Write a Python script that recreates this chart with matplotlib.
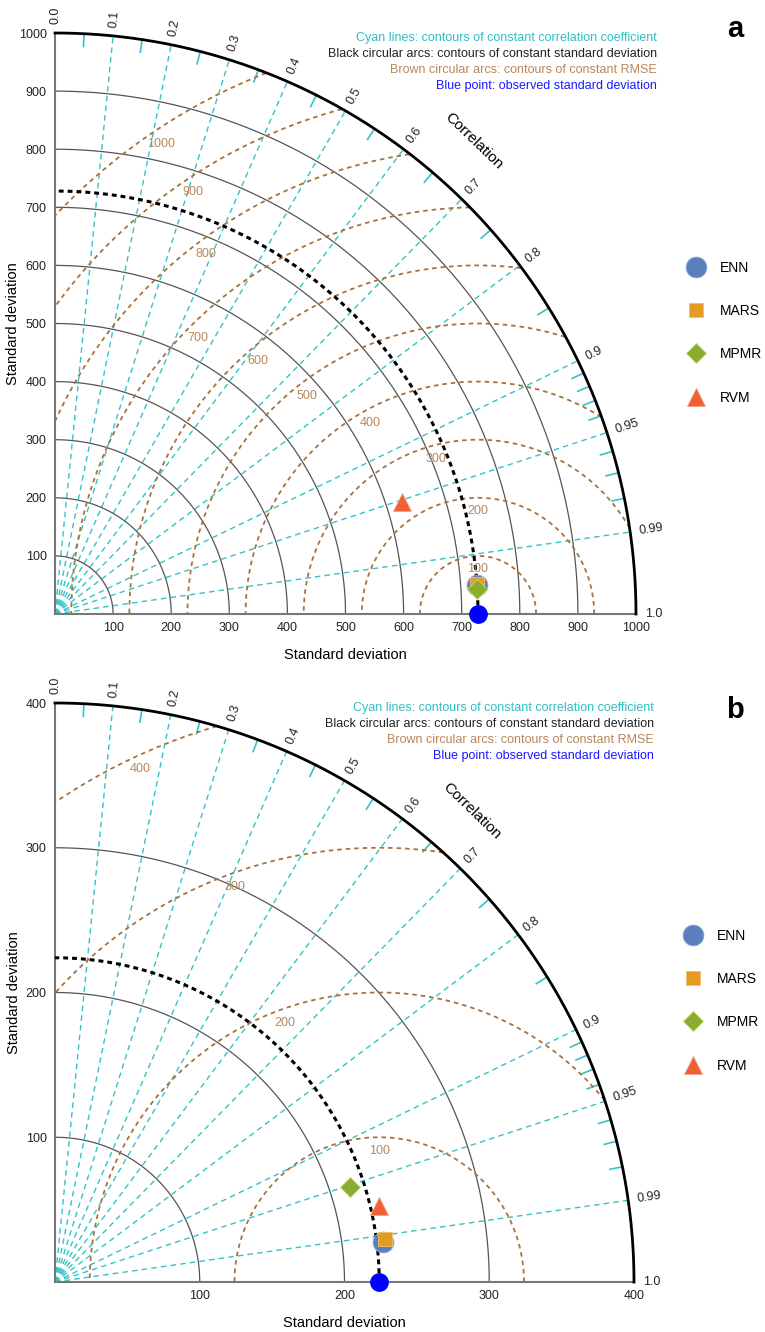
import numpy as np
import matplotlib
matplotlib.use('Agg')
import matplotlib.pyplot as plt

plt.rcParams['font.family'] = ['Liberation Sans', 'DejaVu Sans']

# ---- data ----
models = ['ENN', 'MARS', 'MPMR', 'RVM']

# panel a
std_max_a = 1000
obs_std_a = 728
std_a = [727.7, 729.0, 727.3, 627.4]
corr_a = [0.9977, 0.9975, 0.9982, 0.9515]
std_ticks_a = [100, 200, 300, 400, 500, 600, 700, 800, 900, 1000]
rms_levels_a = [100, 200, 300, 400, 500, 600, 700, 800, 900, 1000]

# panel b
std_max_b = 400
obs_std_b = 224
std_b = [228.3, 229.9, 214.0, 230.1]
corr_b = [0.9926, 0.9917, 0.9522, 0.9736]
std_ticks_b = [100, 200, 300, 400]
rms_levels_b = [100, 200, 300, 400]

corr_major = [0.0, 0.1, 0.2, 0.3, 0.4, 0.5, 0.6, 0.7, 0.8, 0.9, 0.95, 0.99, 1.0]
corr_major_labels = ['0.0', '0.1', '0.2', '0.3', '0.4', '0.5', '0.6', '0.7', '0.8',
                     '0.9', '0.95', '0.99', '1.0']
corr_lines = [0.1, 0.2, 0.3, 0.4, 0.5, 0.6, 0.7, 0.8, 0.9, 0.95, 0.99]
corr_minor = [0.05, 0.15, 0.25, 0.35, 0.45, 0.55, 0.65, 0.75, 0.85,
              0.91, 0.92, 0.93, 0.94, 0.96, 0.97, 0.98]

notes = ['Cyan lines: contours of constant correlation coefficient',
         'Black circular arcs: contours of constant standard deviation',
         'Brown circular arcs: contours of constant RMSE',
         'Blue point: observed standard deviation']

# ---- style ----
cyan = '#33c3c6'
brown = '#a8723f'
brown_txt = '#b8875a'
note_colors = ['#2fbfc4', '#222222', brown_txt, '#1a1aff']
mk = {'ENN': dict(marker='o', color='#5b7fbd', ms=15, mec='#8fb0e0'),
      'MARS': dict(marker='s', color='#e39b22', ms=10, mec='#f0c070'),
      'MPMR': dict(marker='D', color='#89ad2e', ms=10.5, mec='#c8d870'),
      'RVM': dict(marker='^', color='#ef6135', ms=13, mec='#f8a080')}
rms_angles_a = [90, 90, 105, 119.5, 128, 131, 135.5, 127, 124, 124]
rms_angles_b = [90, 110, 110, 115]

W, H = 765, 1332
fig = plt.figure(figsize=(W / 100, H / 100), dpi=100)


def taylor(ax, R, obs, stds, corrs, ticks, rms_levels, rms_angles):
    ax.set_xlim(0, R)
    ax.set_ylim(0, R)
    ax.set_aspect('equal')
    for s in ['top', 'right']:
        ax.spines[s].set_visible(False)
    for s in ['left', 'bottom']:
        ax.spines[s].set_color('#777777')
        ax.spines[s].set_linewidth(1.5)
    ax.set_xticks(ticks)
    ax.set_yticks(ticks)
    ax.set_xticklabels([str(t) for t in ticks])
    ax.set_yticklabels([str(t) for t in ticks])
    ax.tick_params(length=0, labelsize=9, pad=6, colors='#222222')

    th = np.linspace(0, np.pi / 2, 400)
    # correlation lines
    for c in corr_lines:
        a = np.arccos(c)
        ax.plot([0, R * np.cos(a)], [0, R * np.sin(a)], color=cyan, lw=1.0,
                ls=(0, (4, 3)), zorder=1)
    for c in corr_minor:
        a = np.arccos(c)
        ax.plot([0.978 * R * np.cos(a), 0.997 * R * np.cos(a)],
                [0.978 * R * np.sin(a), 0.997 * R * np.sin(a)],
                color=cyan, lw=1.2, zorder=1)
    # std arcs
    for s in ticks[:-1]:
        ax.plot(s * np.cos(th), s * np.sin(th), color='#555555', lw=0.9, zorder=2)
    ax.plot(R * np.cos(th), R * np.sin(th), color='black', lw=2.0, zorder=4,
            clip_on=False)
    # rmse arcs
    phi = np.linspace(0, np.pi, 1200)
    off = 0.0232 * R
    for r, ang in zip(rms_levels, rms_angles):
        x = obs + r * np.cos(phi)
        y = r * np.sin(phi)
        ok = (x >= 0) & (np.hypot(x, y) <= R)
        ax.plot(np.where(ok, x, np.nan), np.where(ok, y, np.nan), color=brown,
                lw=1.3, ls=(0, (2.5, 2.2)), zorder=2, clip_on=False)
        t = np.deg2rad(ang)
        ax.text(obs + (r - off) * np.cos(t), (r - off) * np.sin(t), str(r),
                color=brown_txt, fontsize=9, ha='center', va='center', zorder=5)
    # observed std arc
    ax.plot(obs * np.cos(th), obs * np.sin(th), color='black', lw=2.2,
            ls=(0, (1.6, 1.3)), zorder=3)
    # correlation labels
    for c, lab in zip(corr_major, corr_major_labels):
        a = np.arccos(c)
        ax.text(1.015 * R * np.cos(a), 1.015 * R * np.sin(a), lab,
                rotation=np.degrees(a), rotation_mode='anchor', ha='left',
                va='center', fontsize=9, color='#222222')
    a = np.deg2rad(48.5)
    ax.text(1.087 * R * np.cos(a), 1.087 * R * np.sin(a), 'Correlation',
            rotation=-44, ha='center', va='center', fontsize=11,
            rotation_mode='anchor')
    ax.text(0.5, -41 / 581, 'Standard deviation', transform=ax.transAxes,
            ha='center', va='center', fontsize=10.5)
    ax.text(-41.5 / 581, 0.5, 'Standard deviation', transform=ax.transAxes,
            ha='center', va='center', fontsize=10.5, rotation=90)

    hs = []
    for m, s, c in zip(models, stds, corrs):
        a = np.arccos(c)
        h, = ax.plot(s * np.cos(a), s * np.sin(a), ls='none', label=m,
                     clip_on=False, zorder=7, mew=0.6, **mk[m])
        hs.append(h)
    ax.plot(obs, 0, 'o', color='#0000ff', ms=12.5, clip_on=False, zorder=8)
    return hs


# panel a
ax1 = fig.add_axes([55 / W, (H - 614) / H, 581 / W, 581 / H])
hs = taylor(ax1, std_max_a, obs_std_a, std_a, corr_a, std_ticks_a,
            rms_levels_a, rms_angles_a)
ax1.legend(handles=hs, loc='upper left', bbox_to_anchor=(685.5 / W, 1 - 261 / H),
           bbox_transform=fig.transFigure, frameon=False, fontsize=10,
           handlelength=1.5, handletextpad=1.0, labelspacing=2.1,
           borderpad=0, borderaxespad=0, numpoints=1)

# panel b
ax2 = fig.add_axes([55 / W, (H - 1282) / H, 579 / W, 579 / H])
hs = taylor(ax2, std_max_b, obs_std_b, std_b, corr_b, std_ticks_b,
            rms_levels_b, rms_angles_b)
ax2.legend(handles=hs, loc='upper left', bbox_to_anchor=(682.5 / W, 1 - 929 / H),
           bbox_transform=fig.transFigure, frameon=False, fontsize=10,
           handlelength=1.5, handletextpad=1.0, labelspacing=2.1,
           borderpad=0, borderaxespad=0, numpoints=1)

for x0, y0, letter in [(657, 38, 'a'), (654, 708, 'b')]:
    for i, (txt, col) in enumerate(zip(notes, note_colors)):
        fig.text(x0 / W, 1 - (y0 + 16 * i) / H, txt, color=col, fontsize=9,
                 ha='right', va='center')
    fig.text(735 / W, 1 - (y0 - 1) / H if letter == 'a' else 1 - (y0 + 10) / H,
             letter, fontsize=21, fontweight='bold', ha='center', va='baseline')

fig.savefig('out.png', dpi=100)
